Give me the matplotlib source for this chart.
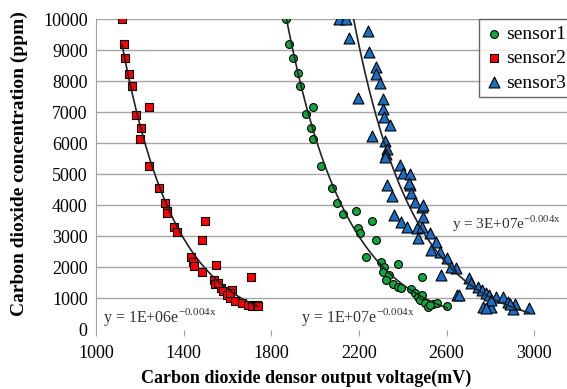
import numpy as np
import matplotlib
matplotlib.use("Agg")
import matplotlib.pyplot as plt

# values (mV, ppm)
s1_x = [1867, 1882, 1900, 1920, 1931, 1991, 1958, 1980, 1991, 2028, 2075,
        2098, 2128, 2189, 2262, 2198, 2207, 2280, 2232, 2303, 2314, 2379,
        2308, 2338, 2326, 2486, 2356, 2379, 2390, 2440, 2455, 2470, 2478,
        2501, 2516, 2539, 2557, 2603, 2524, 2486]
s1_y = [10000, 9200, 8740, 8260, 7860, 7160, 6940, 6500, 6130, 5270, 4550,
        4090, 3720, 3820, 3510, 3260, 3120, 2880, 2330, 2190, 2000, 2100,
        1860, 1760, 1600, 1680, 1470, 1380, 1330, 1300, 1170, 1060, 950,
        860, 730, 820, 860, 760, 790, 1110]

s2_x = [1119, 1126, 1131, 1149, 1164, 1240, 1182, 1207, 1202, 1243, 1286,
        1313, 1322, 1325, 1356, 1368, 1499, 1484, 1432, 1441, 1447, 1550,
        1484, 1540, 1544, 1569, 1581, 1620, 1709, 1596, 1611, 1634, 1665,
        1695, 1710, 1733, 1740, 1611, 1555]
s2_y = [10000, 9190, 8740, 8230, 7850, 7180, 6910, 6480, 6130, 5280, 4550,
        4090, 3830, 3740, 3290, 3150, 3500, 2880, 2330, 2190, 2050, 2080,
        1860, 1600, 1470, 1330, 1240, 1270, 1700, 1110, 1010, 930, 860,
        790, 760, 790, 760, 1170, 1490]

s3_x = [2110, 2141, 2156, 2242, 2247, 2197, 2277, 2280, 2298, 2311, 2311,
        2314, 2341, 2262, 2318, 2329, 2326, 2318, 2387, 2402, 2432, 2432,
        2329, 2349, 2429, 2440, 2455, 2486, 2359, 2390, 2420, 2466, 2470,
        2493, 2524, 2551, 2531, 2569, 2603, 2645, 2577, 2648, 2493, 2486,
        2622, 2703, 2714, 2744, 2760, 2779, 2794, 2828, 2858, 2657, 2767,
        2805, 2881, 2911, 2904, 2977, 2805, 2888, 2782]
s3_y = [10000, 10000, 9390, 9630, 8950, 7450, 8450, 8230, 7950, 7420, 7100,
        6840, 6590, 6240, 6090, 5810, 5660, 5550, 5300, 5030, 5010, 4660,
        4660, 4300, 4710, 4390, 4120, 3960, 3690, 3470, 3310, 3260, 2940,
        3620, 3100, 2830, 2560, 2510, 2290, 1970, 1760, 1110, 4010, 3310,
        2020, 1650, 1490, 1380, 1270, 1190, 1110, 1060, 1040, 1110, 720,
        730, 900, 820, 650, 680, 950, 820, 680]

series = [
    ("sensor1", s1_x, s1_y, "o", "#10a83c", 32),
    ("sensor2", s2_x, s2_y, "s", "#ff0000", 38),
    ("sensor3", s3_x, s3_y, "^", "#1a6fc4", 62),
]

equations = [r"y = 1E+07e$^{\mathrm{-0.004x}}$",
             r"y = 1E+06e$^{\mathrm{-0.004x}}$",
             r"y = 3E+07e$^{\mathrm{-0.004x}}$"]
eq_pos = [(1935, 240), (1030, 240), (2625, 3230)]
eq_size = [11.5, 11.5, 11]

plt.rcParams["font.family"] = ["Liberation Serif", "DejaVu Serif"]
plt.rcParams["mathtext.fontset"] = "custom"
plt.rcParams["mathtext.rm"] = "Liberation Serif"

fig = plt.figure(figsize=(5.67, 3.89), dpi=100)
ax = fig.add_axes([96 / 567, 59.5 / 389, 471 / 567, 310.2 / 389])

for name, xs, ys, mk, col, size in series:
    ax.scatter(xs, ys, marker=mk, s=size, c=col, edgecolors="black",
               linewidths=0.8, label=name, zorder=3)

# exponential trendlines (least squares on ln y, like Excel)
for name, xs, ys, mk, col, size in series:
    b, a = np.polyfit(xs, np.log(ys), 1)
    xx = np.linspace(min(xs), max(xs), 200)
    ax.plot(xx, np.exp(a + b * xx), color="#222222", lw=1.2, zorder=4)

for txt, (tx, ty), fs in zip(equations, eq_pos, eq_size):
    ax.text(tx, ty, txt, fontsize=fs, color="#333333", zorder=5)

ax.set_xlim(1000, 3150)
ax.set_ylim(0, 10000)
ax.set_xticks([1000, 1400, 1800, 2200, 2600, 3000])
ax.set_yticks(range(0, 10001, 1000))
ax.grid(axis="y", color="#a6a6a6", lw=1)
ax.get_ygridlines()[0].set_visible(False)
ax.set_axisbelow(True)

for sp in ["top", "right", "bottom"]:
    ax.spines[sp].set_visible(False)
ax.spines["left"].set_color("#a0a0a0")
ax.tick_params(axis="y", length=0, pad=6, labelsize=13)
ax.tick_params(axis="x", length=4, color="#a0a0a0", pad=7, labelsize=13)

ax.set_xlabel("Carbon dioxide densor output voltage(mV)", fontsize=13,
              fontweight="bold")
ax.xaxis.set_label_coords(0.446, -0.13)
ax.set_ylabel("Carbon dioxide concentration (ppm)", fontsize=14,
              fontweight="bold")
ax.yaxis.set_label_coords(-0.145, 0.535)

leg = ax.legend(loc="upper right", bbox_to_anchor=(1.01, 1.0), fontsize=14,
                frameon=True, fancybox=False, handletextpad=0.1,
                handlelength=1.0, borderpad=0.3, labelspacing=0.35,
                borderaxespad=0)
leg.get_frame().set_edgecolor("#404040")
leg.get_frame().set_linewidth(1.0)

fig.savefig("out.png", dpi=100)
